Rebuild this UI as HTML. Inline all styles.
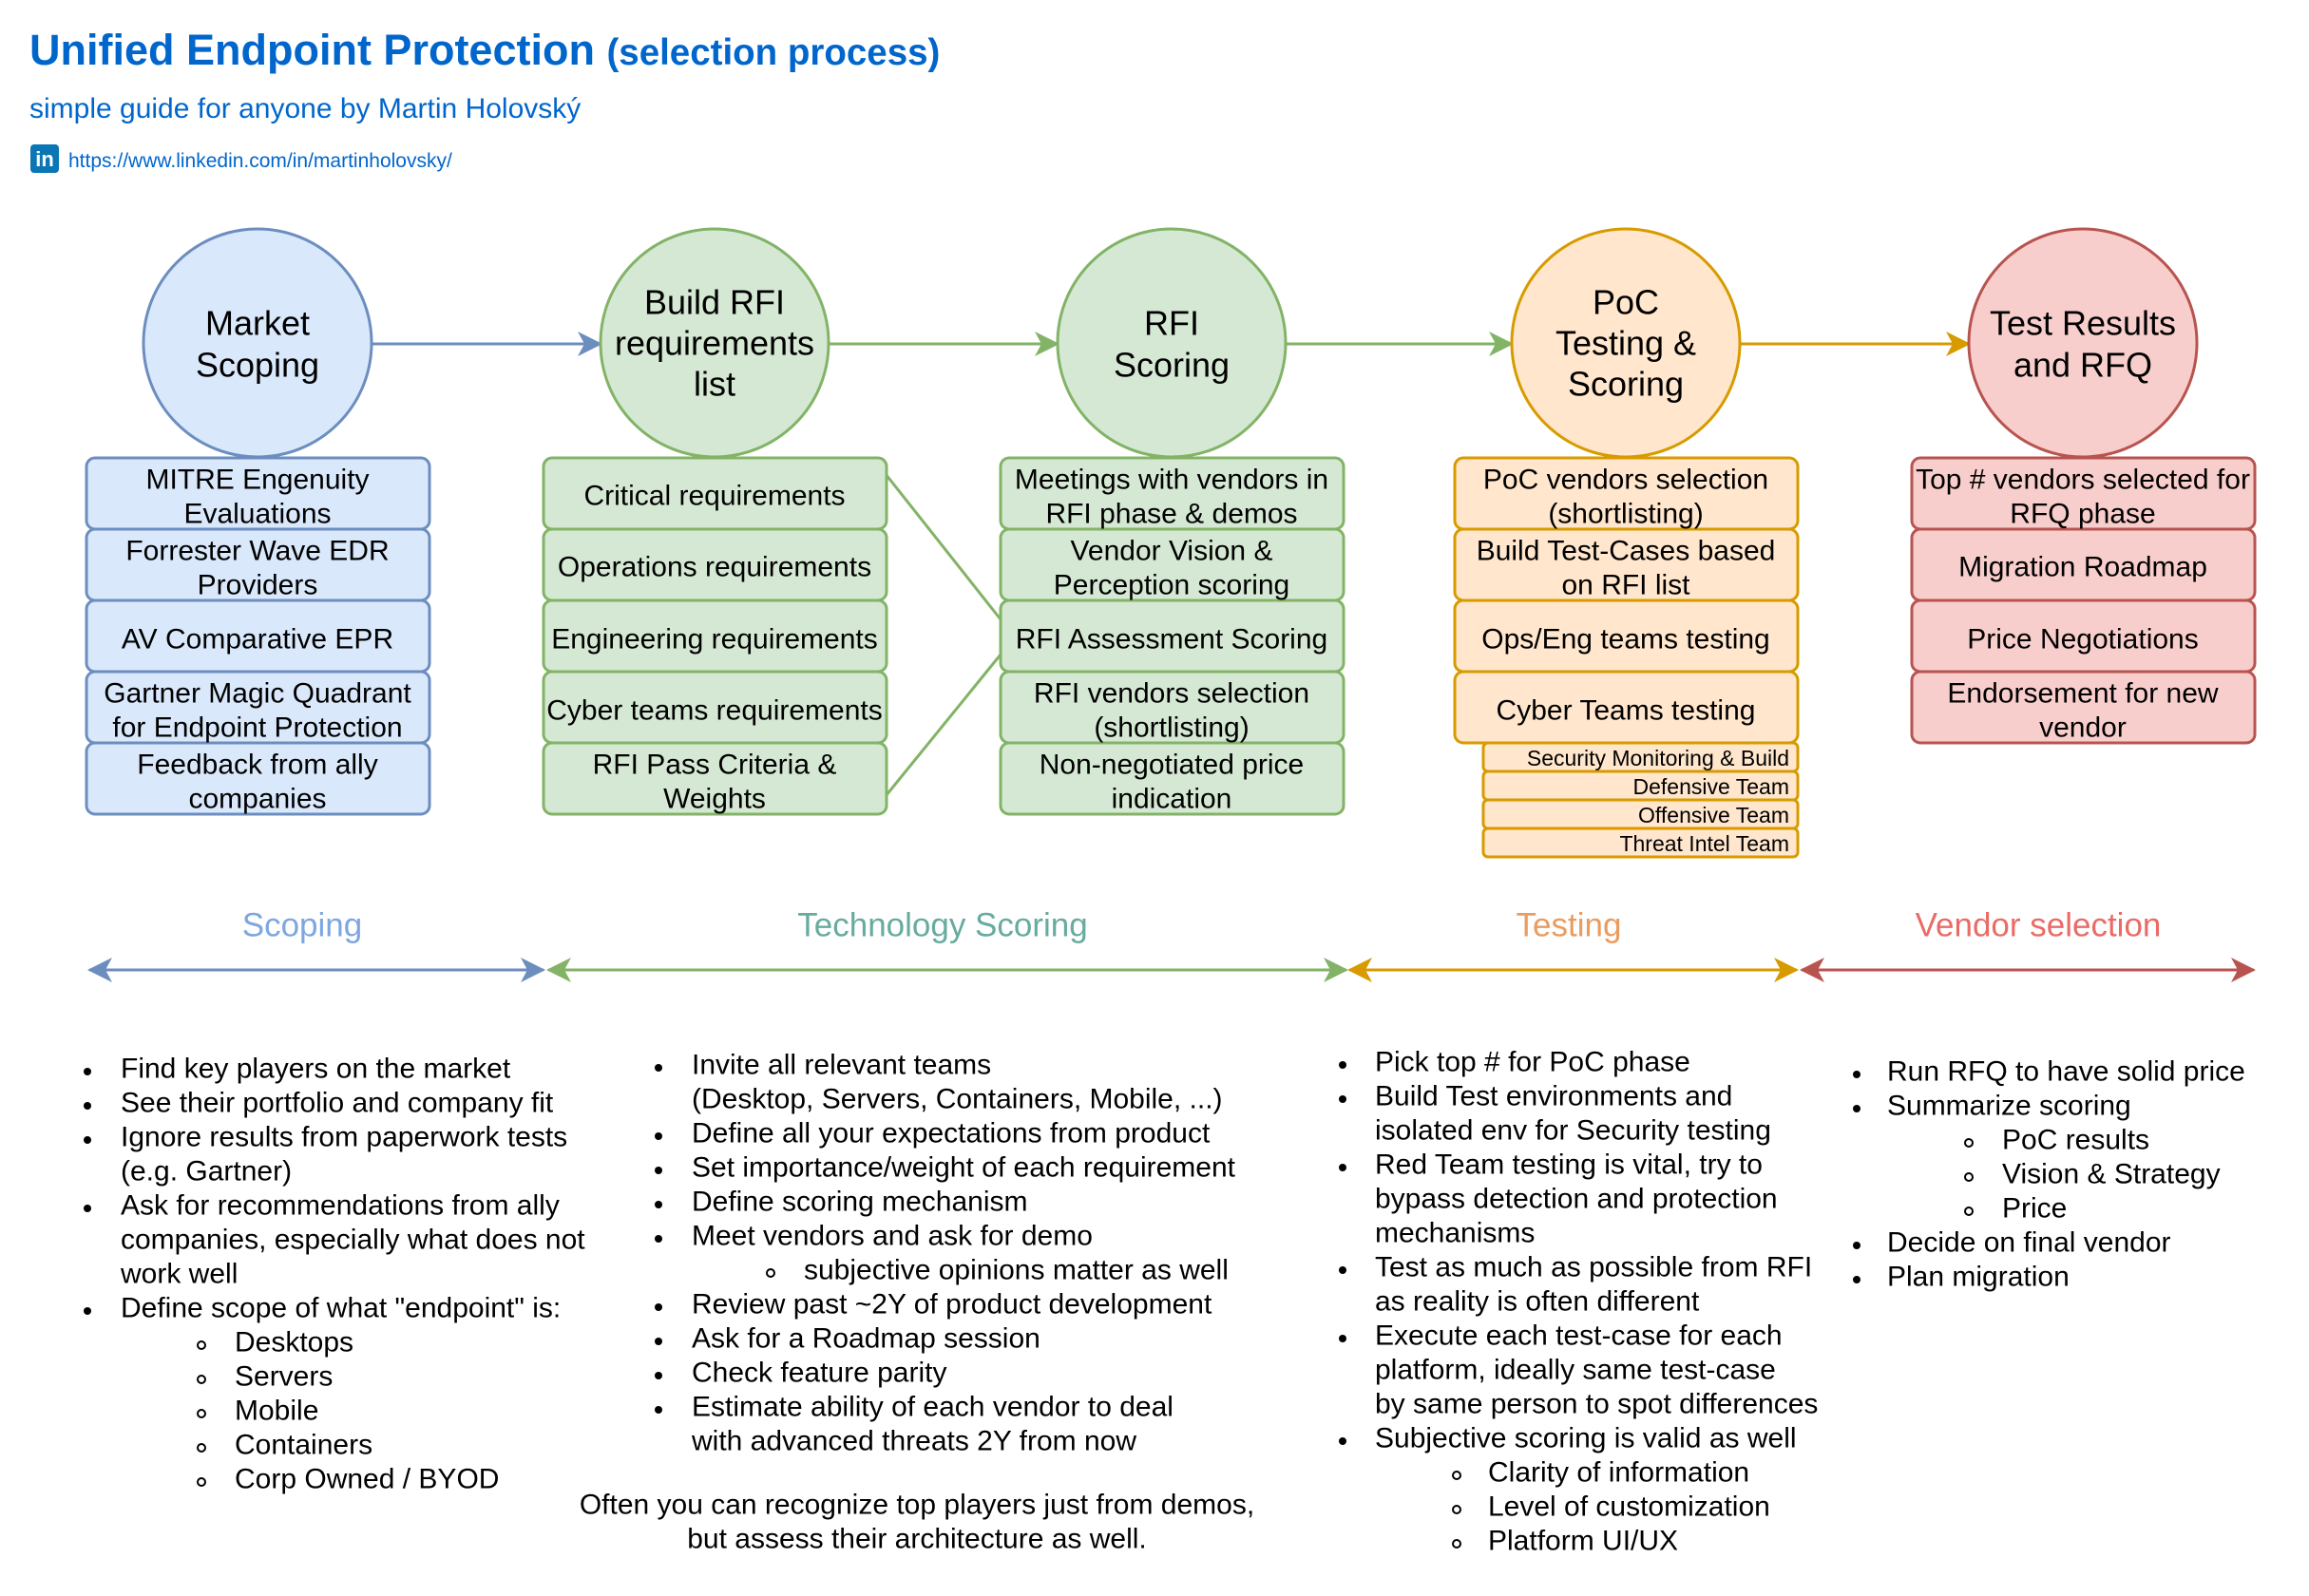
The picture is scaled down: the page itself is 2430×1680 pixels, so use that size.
<!DOCTYPE html>
<html><head><meta charset="utf-8"><style>
html,body{margin:0;padding:0;background:#fff;}
svg{display:block;font-family:"Liberation Sans",Arial,sans-serif;}
</style></head><body>
<svg width="2430" height="1680" viewBox="0 0 2430 1680" xmlns="http://www.w3.org/2000/svg">
<defs>
<marker id="aG" markerWidth="26" markerHeight="26" refX="24" refY="13" orient="auto-start-reverse" markerUnits="userSpaceOnUse"><path d="M0,0 L26,13 L0,26 L7,13 Z" fill="#82b366"/></marker>
<marker id="aO" markerWidth="26" markerHeight="26" refX="24" refY="13" orient="auto-start-reverse" markerUnits="userSpaceOnUse"><path d="M0,0 L26,13 L0,26 L7,13 Z" fill="#d79b00"/></marker>
<marker id="aR" markerWidth="26" markerHeight="26" refX="24" refY="13" orient="auto-start-reverse" markerUnits="userSpaceOnUse"><path d="M0,0 L26,13 L0,26 L7,13 Z" fill="#b85450"/></marker>
<marker id="aBl" markerWidth="26" markerHeight="26" refX="24" refY="13" orient="auto-start-reverse" markerUnits="userSpaceOnUse"><path d="M0,0 L26,13 L0,26 L7,13 Z" fill="#6c8ebf"/></marker>
</defs>

<!-- header -->
<text x="31" y="68" font-size="45" font-weight="bold" fill="#0066CC">Unified Endpoint Protection <tspan font-size="38.5">(selection process)</tspan></text>
<text x="31" y="124" font-size="30" fill="#0066CC">simple guide for anyone by Martin Holovský</text>
<rect x="32" y="152" width="30" height="30" rx="4" fill="#0a76b4"/>
<text x="47" y="175" font-size="22" font-weight="bold" fill="#fff" text-anchor="middle">in</text>
<text x="72" y="176" font-size="21" fill="#0066CC">https://www.linkedin.com/in/martinholovsky/</text>

<!-- circle arrows -->
<line x1="391" y1="362" x2="632" y2="362" stroke="#6c8ebf" stroke-width="3" marker-end="url(#aBl)"/>
<line x1="872" y1="362" x2="1113" y2="362" stroke="#82b366" stroke-width="3" marker-end="url(#aG)"/>
<line x1="1353" y1="362" x2="1591" y2="362" stroke="#82b366" stroke-width="3" marker-end="url(#aG)"/>
<line x1="1831" y1="362" x2="2072" y2="362" stroke="#d79b00" stroke-width="3" marker-end="url(#aO)"/>

<!-- circles -->
<g stroke-width="3">
<circle cx="271" cy="361" r="120" fill="#dae8fc" stroke="#6c8ebf"/>
<circle cx="752" cy="361" r="120" fill="#d5e8d4" stroke="#82b366"/>
<circle cx="1233" cy="361" r="120" fill="#d5e8d4" stroke="#82b366"/>
<circle cx="1711" cy="361" r="120" fill="#ffe6cc" stroke="#d79b00"/>
<circle cx="2192" cy="361" r="120" fill="#f8cecc" stroke="#b85450"/>
</g>
<g font-size="36" text-anchor="middle" fill="#000" dominant-baseline="central">
<text x="271" y="340">Market</text><text x="271" y="384">Scoping</text>
<text x="752" y="318">Build RFI</text><text x="752" y="361">requirements</text><text x="752" y="404">list</text>
<text x="1233" y="340">RFI</text><text x="1233" y="384">Scoring</text>
<text x="1711" y="318">PoC</text><text x="1711" y="361">Testing &amp;</text><text x="1711" y="404">Scoring</text>
<text x="2192" y="340">Test Results</text><text x="2192" y="384">and RFQ</text>
</g>

<!-- connector lines -->
<line x1="932" y1="499" x2="1053" y2="652" stroke="#82b366" stroke-width="3"/>
<line x1="932" y1="838" x2="1053" y2="689" stroke="#82b366" stroke-width="3"/>

<!-- boxes -->
<g stroke-width="3">
<g fill="#dae8fc" stroke="#6c8ebf">
<rect x="91" y="482" width="361" height="75" rx="9"/><rect x="91" y="557" width="361" height="75" rx="9"/><rect x="91" y="632" width="361" height="75" rx="9"/><rect x="91" y="707" width="361" height="75" rx="9"/><rect x="91" y="782" width="361" height="75" rx="9"/>
</g>
<g fill="#d5e8d4" stroke="#82b366">
<rect x="572" y="482" width="361" height="75" rx="9"/><rect x="572" y="557" width="361" height="75" rx="9"/><rect x="572" y="632" width="361" height="75" rx="9"/><rect x="572" y="707" width="361" height="75" rx="9"/><rect x="572" y="782" width="361" height="75" rx="9"/>
<rect x="1053" y="482" width="361" height="75" rx="9"/><rect x="1053" y="557" width="361" height="75" rx="9"/><rect x="1053" y="632" width="361" height="75" rx="9"/><rect x="1053" y="707" width="361" height="75" rx="9"/><rect x="1053" y="782" width="361" height="75" rx="9"/>
</g>
<g fill="#ffe6cc" stroke="#d79b00">
<rect x="1561" y="782" width="331" height="30" rx="5"/><rect x="1561" y="812" width="331" height="30" rx="5"/><rect x="1561" y="842" width="331" height="30" rx="5"/><rect x="1561" y="872" width="331" height="30" rx="5"/>
<rect x="1531" y="482" width="361" height="75" rx="9"/><rect x="1531" y="557" width="361" height="75" rx="9"/><rect x="1531" y="632" width="361" height="75" rx="9"/><rect x="1531" y="707" width="361" height="75" rx="9"/>
</g>
<g fill="#f8cecc" stroke="#b85450">
<rect x="2012" y="482" width="361" height="75" rx="9"/><rect x="2012" y="557" width="361" height="75" rx="9"/><rect x="2012" y="632" width="361" height="75" rx="9"/><rect x="2012" y="707" width="361" height="75" rx="9"/>
</g>
</g>

<g font-size="30" text-anchor="middle" fill="#000" dominant-baseline="central">
<text x="271" y="505">MITRE Engenuity</text><text x="271" y="541">Evaluations</text>
<text x="271" y="580">Forrester Wave EDR</text><text x="271" y="616">Providers</text>
<text x="271" y="673">AV Comparative EPR</text>
<text x="271" y="730">Gartner Magic Quadrant</text><text x="271" y="766">for Endpoint Protection</text>
<text x="271" y="805">Feedback from ally</text><text x="271" y="841">companies</text>

<text x="752" y="522">Critical requirements</text>
<text x="752" y="597">Operations requirements</text>
<text x="752" y="673">Engineering requirements</text>
<text x="752" y="748">Cyber teams requirements</text>
<text x="752" y="805">RFI Pass Criteria &amp;</text><text x="752" y="841">Weights</text>

<text x="1233" y="505">Meetings with vendors in</text><text x="1233" y="541">RFI phase &amp; demos</text>
<text x="1233" y="580">Vendor Vision &amp;</text><text x="1233" y="616">Perception scoring</text>
<text x="1233" y="673">RFI Assessment Scoring</text>
<text x="1233" y="730">RFI vendors selection</text><text x="1233" y="766">(shortlisting)</text>
<text x="1233" y="805">Non-negotiated price</text><text x="1233" y="841">indication</text>

<text x="1711" y="505">PoC vendors selection</text><text x="1711" y="541">(shortlisting)</text>
<text x="1711" y="580">Build Test-Cases based</text><text x="1711" y="616">on RFI list</text>
<text x="1711" y="673">Ops/Eng teams testing</text>
<text x="1711" y="748">Cyber Teams testing</text>

<text x="2192" y="505">Top # vendors selected for</text><text x="2192" y="541">RFQ phase</text>
<text x="2192" y="597">Migration Roadmap</text>
<text x="2192" y="673">Price Negotiations</text>
<text x="2192" y="730">Endorsement for new</text><text x="2192" y="766">vendor</text>
</g>
<g font-size="23" text-anchor="end" fill="#000" dominant-baseline="central">
<text x="1883" y="798">Security Monitoring &amp; Build</text>
<text x="1883" y="828">Defensive Team</text>
<text x="1883" y="858">Offensive Team</text>
<text x="1883" y="888">Threat Intel Team</text>
</g>

<!-- phases -->
<g font-size="35" text-anchor="middle" dominant-baseline="central">
<text x="318" y="974" fill="#7EA6E0">Scoping</text>
<text x="992" y="974" fill="#67AB9F">Technology Scoring</text>
<text x="1651" y="974" fill="#EA9C5F">Testing</text>
<text x="2145" y="974" fill="#EA6B66">Vendor selection</text>
</g>
<line x1="94" y1="1021" x2="572" y2="1021" stroke="#6c8ebf" stroke-width="3" marker-start="url(#aBl)" marker-end="url(#aBl)"/>
<line x1="577" y1="1021" x2="1417" y2="1021" stroke="#82b366" stroke-width="3" marker-start="url(#aG)" marker-end="url(#aG)"/>
<line x1="1420" y1="1021" x2="1891" y2="1021" stroke="#d79b00" stroke-width="3" marker-start="url(#aO)" marker-end="url(#aO)"/>
<line x1="1896" y1="1021" x2="2372" y2="1021" stroke="#b85450" stroke-width="3" marker-start="url(#aR)" marker-end="url(#aR)"/>

<!-- bullets -->
<g font-size="30" fill="#000" dominant-baseline="central">
<g>
<circle cx="92" cy="1128" r="4"/><text x="127" y="1125">Find key players on the market</text>
<circle cx="92" cy="1164" r="4"/><text x="127" y="1161">See their portfolio and company fit</text>
<circle cx="92" cy="1200" r="4"/><text x="127" y="1197">Ignore results from paperwork tests</text>
<text x="127" y="1233">(e.g. Gartner)</text>
<circle cx="92" cy="1272" r="4"/><text x="127" y="1269">Ask for recommendations from ally</text>
<text x="127" y="1305">companies, especially what does not</text>
<text x="127" y="1341">work well</text>
<circle cx="92" cy="1380" r="4"/><text x="127" y="1377">Define scope of what "endpoint" is:</text>
<circle cx="212" cy="1416" r="4" fill="none" stroke="#000" stroke-width="2"/><text x="247" y="1413">Desktops</text>
<circle cx="212" cy="1452" r="4" fill="none" stroke="#000" stroke-width="2"/><text x="247" y="1449">Servers</text>
<circle cx="212" cy="1488" r="4" fill="none" stroke="#000" stroke-width="2"/><text x="247" y="1485">Mobile</text>
<circle cx="212" cy="1524" r="4" fill="none" stroke="#000" stroke-width="2"/><text x="247" y="1521">Containers</text>
<circle cx="212" cy="1560" r="4" fill="none" stroke="#000" stroke-width="2"/><text x="247" y="1557">Corp Owned / BYOD</text>
</g>
<g>
<circle cx="693" cy="1124" r="4"/><text x="728" y="1121">Invite all relevant teams</text>
<text x="728" y="1157">(Desktop, Servers, Containers, Mobile, ...)</text>
<circle cx="693" cy="1196" r="4"/><text x="728" y="1193">Define all your expectations from product</text>
<circle cx="693" cy="1232" r="4"/><text x="728" y="1229">Set importance/weight of each requirement</text>
<circle cx="693" cy="1268" r="4"/><text x="728" y="1265">Define scoring mechanism</text>
<circle cx="693" cy="1304" r="4"/><text x="728" y="1301">Meet vendors and ask for demo</text>
<circle cx="811" cy="1340" r="4" fill="none" stroke="#000" stroke-width="2"/><text x="846" y="1337">subjective opinions matter as well</text>
<circle cx="693" cy="1376" r="4"/><text x="728" y="1373">Review past ~2Y of product development</text>
<circle cx="693" cy="1412" r="4"/><text x="728" y="1409">Ask for a Roadmap session</text>
<circle cx="693" cy="1448" r="4"/><text x="728" y="1445">Check feature parity</text>
<circle cx="693" cy="1484" r="4"/><text x="728" y="1481">Estimate ability of each vendor to deal</text>
<text x="728" y="1517">with advanced threats 2Y from now</text>
</g>
<text x="965" y="1584" text-anchor="middle">Often you can recognize top players just from demos,</text>
<text x="965" y="1620" text-anchor="middle">but assess their architecture as well.</text>
<g>
<circle cx="1413" cy="1121" r="4"/><text x="1447" y="1118">Pick top # for PoC phase</text>
<circle cx="1413" cy="1157" r="4"/><text x="1447" y="1154">Build Test environments and</text>
<text x="1447" y="1190">isolated env for Security testing</text>
<circle cx="1413" cy="1229" r="4"/><text x="1447" y="1226">Red Team testing is vital, try to</text>
<text x="1447" y="1262">bypass detection and protection</text>
<text x="1447" y="1298">mechanisms</text>
<circle cx="1413" cy="1337" r="4"/><text x="1447" y="1334">Test as much as possible from RFI</text>
<text x="1447" y="1370">as reality is often different</text>
<circle cx="1413" cy="1409" r="4"/><text x="1447" y="1406">Execute each test-case for each</text>
<text x="1447" y="1442">platform, ideally same test-case</text>
<text x="1447" y="1478">by same person to spot differences</text>
<circle cx="1413" cy="1517" r="4"/><text x="1447" y="1514">Subjective scoring is valid as well</text>
<circle cx="1533" cy="1553" r="4" fill="none" stroke="#000" stroke-width="2"/><text x="1566" y="1550">Clarity of information</text>
<circle cx="1533" cy="1589" r="4" fill="none" stroke="#000" stroke-width="2"/><text x="1566" y="1586">Level of customization</text>
<circle cx="1533" cy="1625" r="4" fill="none" stroke="#000" stroke-width="2"/><text x="1566" y="1622">Platform UI/UX</text>
</g>
<g>
<circle cx="1954" cy="1131" r="4"/><text x="1986" y="1128">Run RFQ to have solid price</text>
<circle cx="1954" cy="1167" r="4"/><text x="1986" y="1164">Summarize scoring</text>
<circle cx="2072" cy="1203" r="4" fill="none" stroke="#000" stroke-width="2"/><text x="2107" y="1200">PoC results</text>
<circle cx="2072" cy="1239" r="4" fill="none" stroke="#000" stroke-width="2"/><text x="2107" y="1236">Vision &amp; Strategy</text>
<circle cx="2072" cy="1275" r="4" fill="none" stroke="#000" stroke-width="2"/><text x="2107" y="1272">Price</text>
<circle cx="1954" cy="1311" r="4"/><text x="1986" y="1308">Decide on final vendor</text>
<circle cx="1954" cy="1347" r="4"/><text x="1986" y="1344">Plan migration</text>
</g>
</g>
</svg>
</body></html>
